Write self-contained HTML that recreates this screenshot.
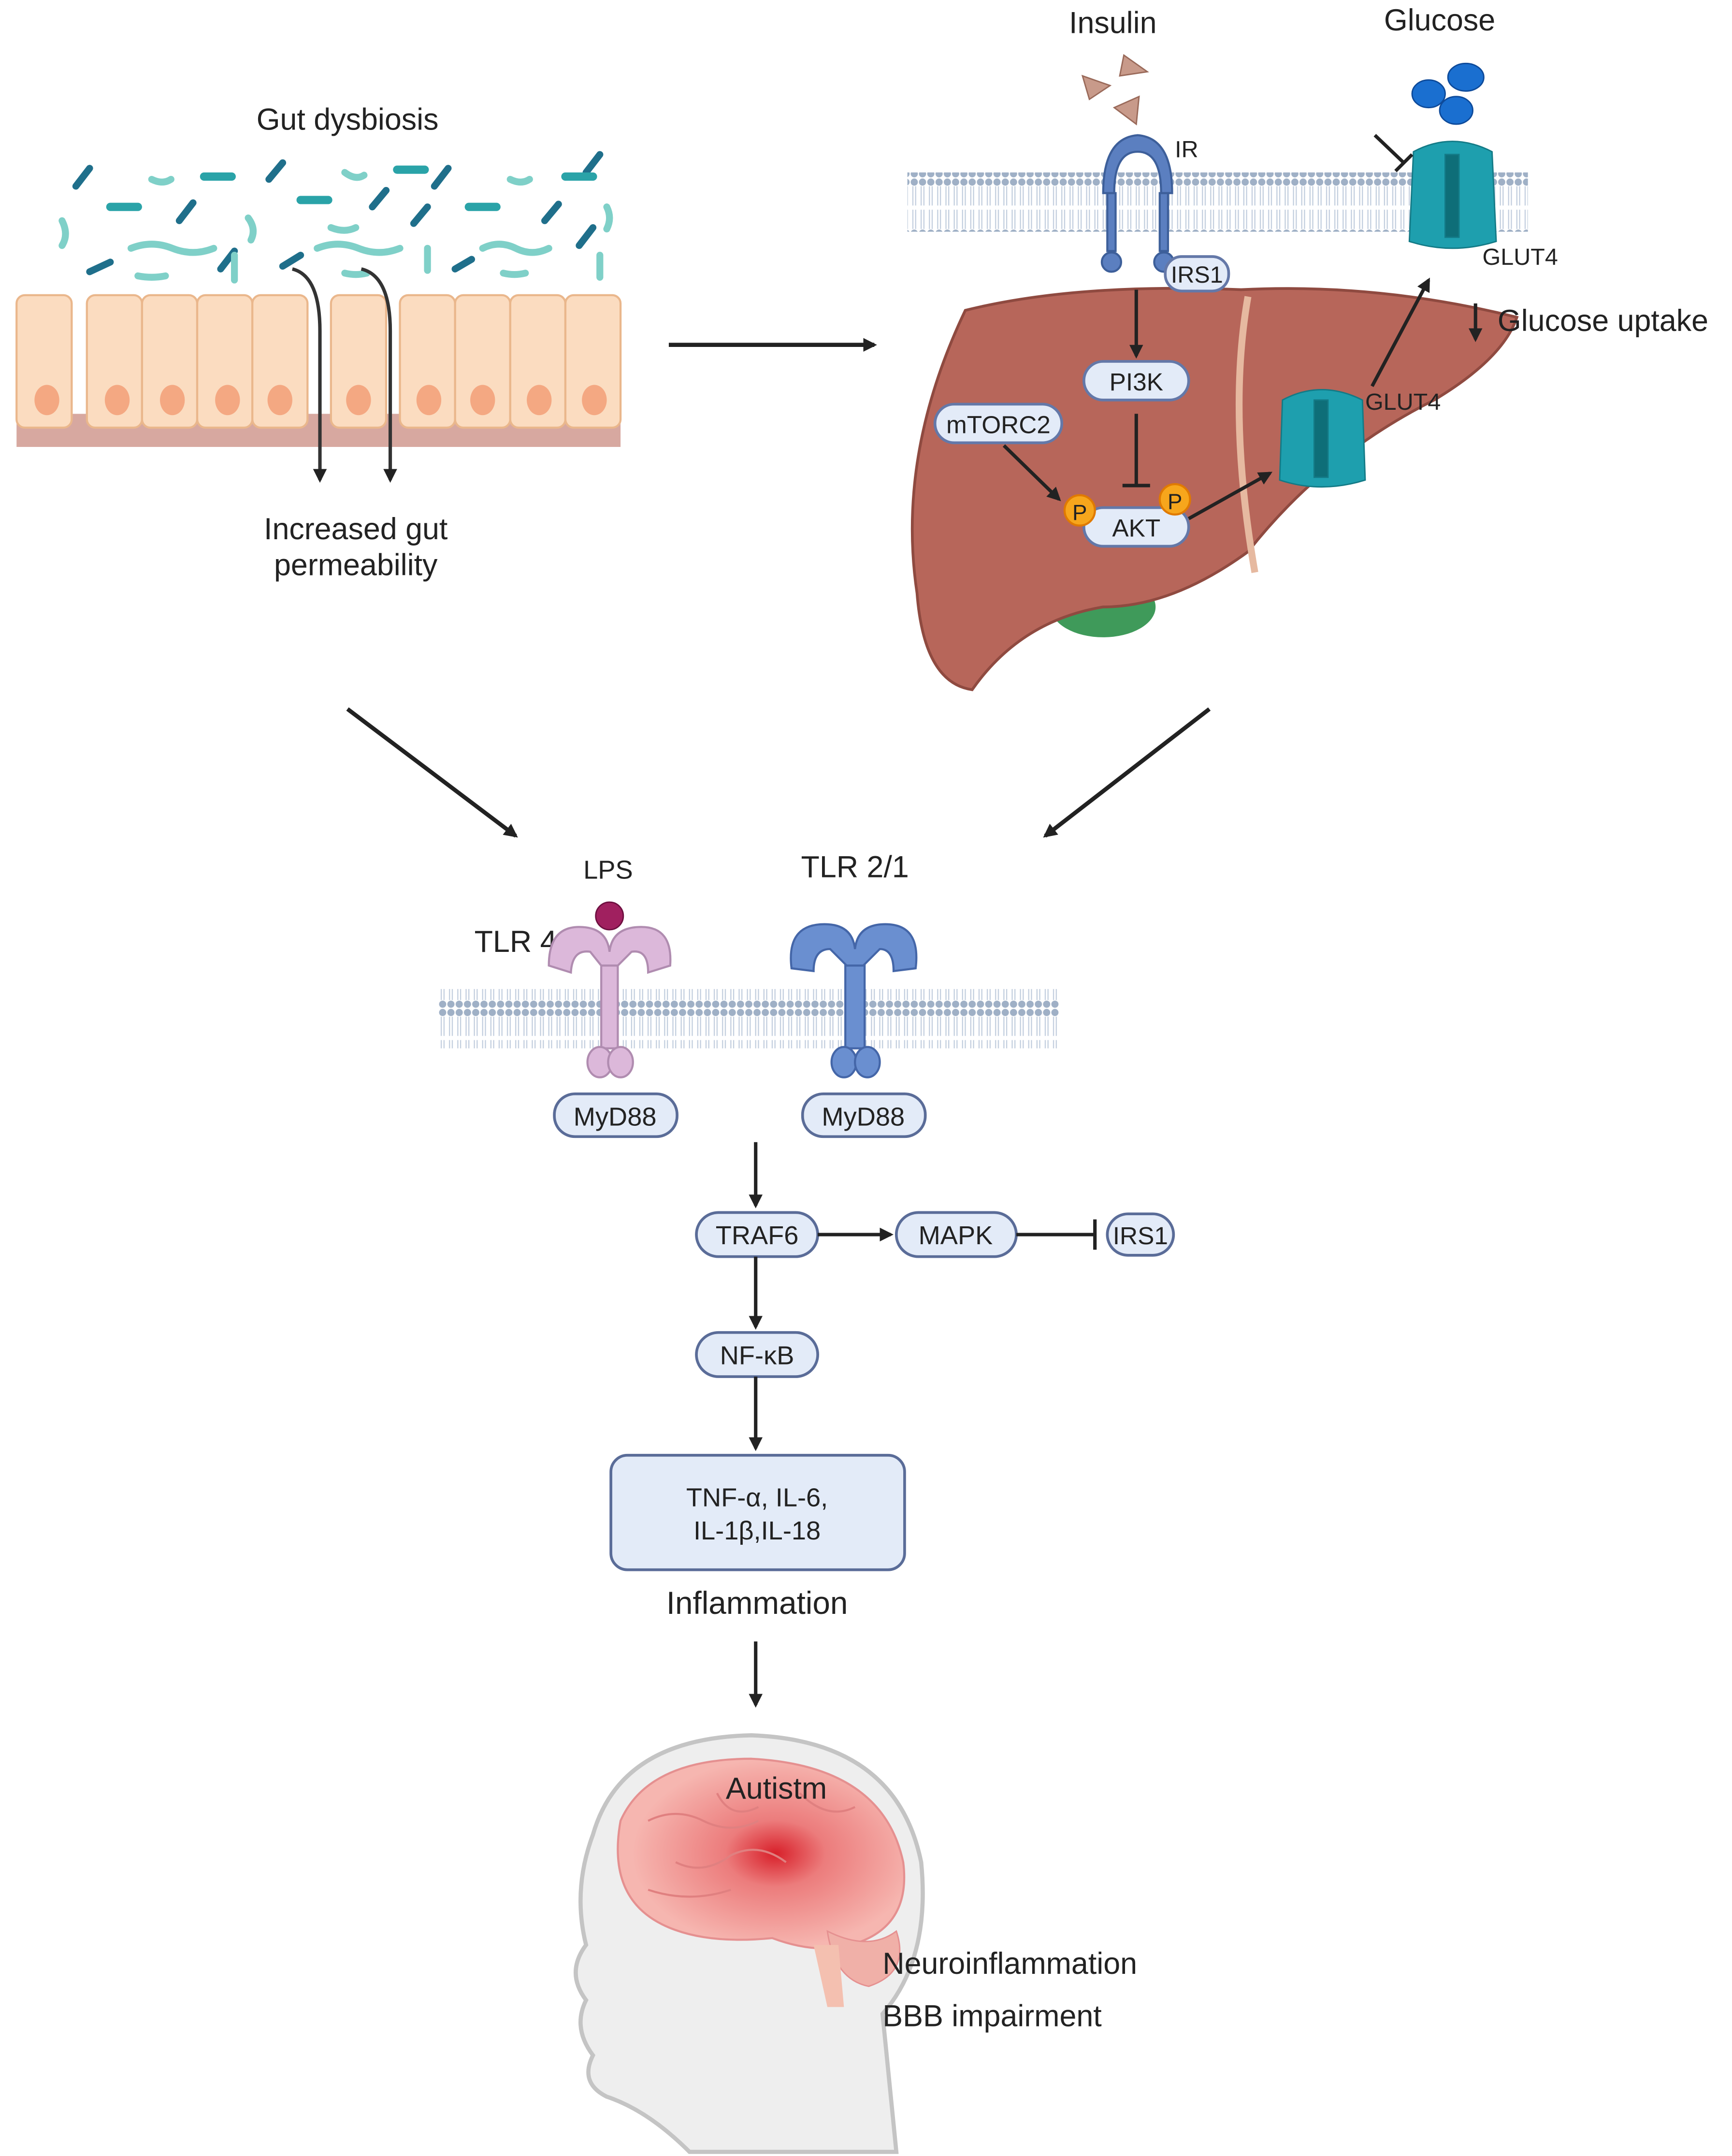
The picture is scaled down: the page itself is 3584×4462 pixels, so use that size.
<!DOCTYPE html>
<html><head><meta charset="utf-8"><style>
html,body{margin:0;padding:0;background:#fff;}
svg{display:block;}
text{font-family:"Liberation Sans",sans-serif;fill:#222;}
</style></head><body>
<svg width="3584" height="4462" viewBox="0 0 1256 1563" preserveAspectRatio="none" xmlns="http://www.w3.org/2000/svg">
<defs>
<marker id="ah" markerWidth="10" markerHeight="10" refX="8" refY="5" orient="auto" markerUnits="userSpaceOnUse"><path d="M0,0 L10,5 L0,10 z" fill="#222"/></marker>
<pattern id="mem" width="6" height="43" patternUnits="userSpaceOnUse"><circle cx="3" cy="3" r="2.6" fill="#9fb0c6"/><circle cx="3" cy="40" r="2.6" fill="#9fb0c6"/><line x1="2" y1="6" x2="2" y2="20" stroke="#c2cede" stroke-width="0.8"/><line x1="4" y1="6" x2="4" y2="20" stroke="#c2cede" stroke-width="0.8"/><line x1="2" y1="23" x2="2" y2="37" stroke="#c2cede" stroke-width="0.8"/><line x1="4" y1="23" x2="4" y2="37" stroke="#c2cede" stroke-width="0.8"/></pattern>
<radialGradient id="brg" cx="0.55" cy="0.5" r="0.5"><stop offset="0" stop-color="#d8202a"/><stop offset="0.35" stop-color="#ec7c7c"/><stop offset="1" stop-color="#f6b6b0"/></radialGradient>
</defs>

<!-- Gut -->
<text x="252" y="94" font-size="22" text-anchor="middle">Gut dysbiosis</text>
<g stroke-linecap="round">
<g stroke="#1f6f8b" stroke-width="5">
<line x1="55" y1="135" x2="65" y2="122"/><line x1="130" y1="160" x2="140" y2="147"/><line x1="160" y1="195" x2="170" y2="182"/><line x1="195" y1="130" x2="205" y2="118"/><line x1="270" y1="150" x2="280" y2="138"/><line x1="300" y1="162" x2="310" y2="150"/><line x1="315" y1="135" x2="325" y2="122"/><line x1="395" y1="160" x2="405" y2="148"/><line x1="425" y1="125" x2="435" y2="112"/><line x1="205" y1="193" x2="218" y2="185"/><line x1="65" y1="197" x2="80" y2="190"/><line x1="330" y1="195" x2="342" y2="188"/><line x1="420" y1="178" x2="430" y2="165"/>
</g>
<g stroke="#2aa3a8" stroke-width="6">
<line x1="80" y1="150" x2="100" y2="150"/><line x1="148" y1="128" x2="168" y2="128"/><line x1="218" y1="145" x2="238" y2="145"/><line x1="288" y1="123" x2="308" y2="123"/><line x1="340" y1="150" x2="360" y2="150"/><line x1="410" y1="128" x2="430" y2="128"/>
</g>
<g stroke="#7fd0c8" stroke-width="5" fill="none">
<path d="M45 160 q5 10 0 18"/><path d="M110 130 q8 4 14 0"/><path d="M180 158 q6 8 2 16"/><path d="M250 125 q8 6 14 2"/><path d="M240 165 q10 4 18 0"/><path d="M370 130 q8 4 14 0"/><path d="M440 150 q4 8 0 16"/><path d="M95 180 q15 -6 30 0 q15 6 30 0"/><path d="M230 180 q15 -6 30 0 q15 6 30 0"/><path d="M350 180 q12 -6 24 0 q12 6 24 0"/><path d="M100 200 q10 2 20 0"/><path d="M250 198 q8 2 16 0"/><path d="M365 198 q8 2 16 0"/><path d="M170 185 l0 18"/><path d="M310 180 l0 16"/><path d="M435 185 l0 16"/>
</g>
</g>
<!-- epithelium -->
<rect x="12" y="300" width="438" height="24" fill="#d7a8a0"/>
<g fill="#fbdcc0" stroke="#eab78c" stroke-width="1.5">
<rect x="12" y="214" width="40" height="96" rx="6"/><rect x="63" y="214" width="40" height="96" rx="6"/><rect x="103" y="214" width="40" height="96" rx="6"/><rect x="143" y="214" width="40" height="96" rx="6"/><rect x="183" y="214" width="40" height="96" rx="6"/><rect x="240" y="214" width="40" height="96" rx="6"/><rect x="290" y="214" width="40" height="96" rx="6"/><rect x="330" y="214" width="40" height="96" rx="6"/><rect x="370" y="214" width="40" height="96" rx="6"/><rect x="410" y="214" width="40" height="96" rx="6"/>
</g>
<g fill="#f4a882">
<ellipse cx="34" cy="290" rx="9" ry="11"/><ellipse cx="85" cy="290" rx="9" ry="11"/><ellipse cx="125" cy="290" rx="9" ry="11"/><ellipse cx="165" cy="290" rx="9" ry="11"/><ellipse cx="203" cy="290" rx="9" ry="11"/><ellipse cx="260" cy="290" rx="9" ry="11"/><ellipse cx="311" cy="290" rx="9" ry="11"/><ellipse cx="350" cy="290" rx="9" ry="11"/><ellipse cx="391" cy="290" rx="9" ry="11"/><ellipse cx="431" cy="290" rx="9" ry="11"/>
</g>
<path d="M212 195 Q232 200 232 240 L232 348" stroke="#333" stroke-width="2.5" fill="none" marker-end="url(#ah)"/>
<path d="M262 195 Q283 200 283 240 L283 348" stroke="#333" stroke-width="2.5" fill="none" marker-end="url(#ah)"/>
<text x="258" y="391" font-size="22" text-anchor="middle">Increased gut</text>
<text x="258" y="417" font-size="22" text-anchor="middle">permeability</text>

<line x1="485" y1="250" x2="634" y2="250" stroke="#222" stroke-width="3" marker-end="url(#ah)"/>

<!-- top membrane -->
<rect x="658" y="125" width="450" height="43" fill="url(#mem)"/>
<!-- liver -->
<ellipse cx="800" cy="440" rx="38" ry="22" fill="#3f9a5a"/>
<path d="M700 225 Q780 205 900 210 Q1000 205 1100 230 Q1090 260 1040 290 Q960 330 905 400 Q850 440 800 440 Q740 450 705 500 Q670 495 665 430 Q650 330 700 225 Z" fill="#b7665a" stroke="#8f4a40" stroke-width="2"/>
<path d="M905 215 Q890 300 910 415" stroke="#e6b9a0" stroke-width="5" fill="none"/>
<text x="807" y="24" font-size="22" text-anchor="middle">Insulin</text>
<g fill="#c89a8a" stroke="#9a6a5a"><path d="M785 55 L805 62 L790 72Z"/><path d="M815 40 L832 52 L812 55Z"/><path d="M808 78 L826 70 L824 90Z"/></g>
<text x="1044" y="22" font-size="22" text-anchor="middle">Glucose</text>
<g fill="#1a6fd0" stroke="#0d4a9a"><ellipse cx="1036" cy="68" rx="12" ry="10"/><ellipse cx="1063" cy="56" rx="13" ry="10"/><ellipse cx="1056" cy="80" rx="12" ry="10"/></g>
<!-- IR -->
<g fill="#5b7fc0" stroke="#3d5f9a" stroke-width="1.5">
<path d="M800 140 Q800 100 825 98 Q850 100 850 140 L842 140 Q842 110 825 110 Q808 110 808 140Z"/>
<rect x="803" y="140" width="6" height="42"/><rect x="841" y="140" width="6" height="42"/>
<circle cx="806" cy="190" r="7"/><circle cx="844" cy="190" r="7"/>
</g>
<text x="852" y="114" font-size="17">IR</text>
<!-- GLUT4 membrane -->
<g fill="#1e9fae" stroke="#137a86"><path d="M1025 110 Q1053 95 1082 110 L1085 175 Q1053 185 1022 175Z"/><rect x="1048" y="112" width="10" height="60" fill="#0e6e78"/></g>
<path d="M997 98 L1018 118" stroke="#222" stroke-width="2.5"/><path d="M1012 124 L1024 112" stroke="#222" stroke-width="2.5"/>
<text x="1075" y="192" font-size="17">GLUT4</text>
<!-- GLUT4 liver -->
<g fill="#1e9fae" stroke="#137a86"><path d="M930 290 Q958 275 988 290 L990 348 Q958 358 928 348Z"/><rect x="953" y="290" width="10" height="56" fill="#0e6e78"/></g>
<text x="990" y="297" font-size="17" fill="#111">GLUT4</text>
<line x1="995" y1="280" x2="1036" y2="203" stroke="#222" stroke-width="2.5" marker-end="url(#ah)"/>
<line x1="1070" y1="220" x2="1070" y2="246" stroke="#222" stroke-width="2.5" marker-end="url(#ah)"/>
<text x="1086" y="240" font-size="22">Glucose uptake</text>
<!-- pills liver -->
<g fill="#e3ebf8" stroke="#6478a8" stroke-width="2">
<rect x="845" y="186" width="46" height="25" rx="12"/>
<rect x="786" y="262" width="76" height="28" rx="14"/>
<rect x="678" y="293" width="92" height="28" rx="14"/>
<rect x="786" y="368" width="76" height="28" rx="14"/>
</g>
<text x="868" y="205" font-size="17" text-anchor="middle">IRS1</text>
<text x="824" y="283" font-size="18" text-anchor="middle">PI3K</text>
<text x="724" y="314" font-size="18" text-anchor="middle">mTORC2</text>
<text x="824" y="389" font-size="18" text-anchor="middle">AKT</text>
<line x1="824" y1="210" x2="824" y2="258" stroke="#222" stroke-width="2.5" marker-end="url(#ah)"/>
<line x1="824" y1="300" x2="824" y2="352" stroke="#222" stroke-width="2.5"/><line x1="814" y1="352" x2="834" y2="352" stroke="#222" stroke-width="2.5"/>
<line x1="728" y1="323" x2="768" y2="362" stroke="#222" stroke-width="2.5" marker-end="url(#ah)"/>
<line x1="862" y1="376" x2="921" y2="343" stroke="#222" stroke-width="2.5" marker-end="url(#ah)"/>
<g fill="#f7a61c" stroke="#e07a00" stroke-width="1.5"><circle cx="783" cy="370" r="11"/><circle cx="852" cy="362" r="11"/></g>
<text x="783" y="377" font-size="16" text-anchor="middle" fill="#c05a00">P</text>
<text x="852" y="369" font-size="16" text-anchor="middle" fill="#c05a00">P</text>

<line x1="252" y1="514" x2="374" y2="606" stroke="#222" stroke-width="3" marker-end="url(#ah)"/>
<line x1="877" y1="514" x2="758" y2="606" stroke="#222" stroke-width="3" marker-end="url(#ah)"/>

<!-- lower membrane -->
<rect x="318" y="717" width="450" height="43" fill="url(#mem)"/>
<text x="441" y="637" font-size="19" text-anchor="middle">LPS</text>
<circle cx="442" cy="664" r="10" fill="#a0205f" stroke="#6e0f40"/>
<text x="344" y="690" font-size="22">TLR 4</text>
<g fill="#dcb8da" stroke="#b08cb0" stroke-width="1.5">
<path d="M398 700 Q398 672 420 672 Q440 672 442 690 Q444 672 465 672 Q488 672 486 700 L470 705 Q470 688 458 690 L448 700 L436 700 L428 690 Q415 688 414 705Z"/>
<rect x="436" y="700" width="12" height="60"/>
<ellipse cx="435" cy="770" rx="9" ry="11"/><ellipse cx="450" cy="770" rx="9" ry="11"/>
</g>
<text x="620" y="636" font-size="22" text-anchor="middle">TLR 2/1</text>
<g fill="#6a8fd0" stroke="#4466a8" stroke-width="1.5">
<path d="M574 702 Q570 670 598 670 Q618 670 620 688 Q622 670 642 670 Q668 670 664 702 L648 704 Q648 688 638 688 L626 700 L614 700 L602 688 Q590 688 590 704Z"/>
<rect x="613" y="700" width="14" height="60"/>
<ellipse cx="612" cy="770" rx="9" ry="11"/><ellipse cx="629" cy="770" rx="9" ry="11"/>
</g>
<g fill="#e3ebf8" stroke="#5a6c98" stroke-width="2">
<rect x="402" y="793" width="89" height="31" rx="15"/>
<rect x="582" y="793" width="89" height="31" rx="15"/>
<rect x="505" y="879" width="88" height="32" rx="16"/>
<rect x="650" y="879" width="87" height="32" rx="16"/>
<rect x="803" y="880" width="48" height="30" rx="15"/>
<rect x="505" y="966" width="88" height="32" rx="16"/>
<rect x="443" y="1055" width="213" height="83" rx="12"/>
</g>
<text x="446" y="816" font-size="19" text-anchor="middle">MyD88</text>
<text x="626" y="816" font-size="19" text-anchor="middle">MyD88</text>
<text x="549" y="902" font-size="19" text-anchor="middle">TRAF6</text>
<text x="693" y="902" font-size="19" text-anchor="middle">MAPK</text>
<text x="827" y="902" font-size="18" text-anchor="middle">IRS1</text>
<text x="549" y="989" font-size="19" text-anchor="middle">NF-κB</text>
<text x="549" y="1092" font-size="19" text-anchor="middle">TNF-α, IL-6,</text>
<text x="549" y="1116" font-size="19" text-anchor="middle">IL-1β,IL-18</text>
<text x="549" y="1170" font-size="23" text-anchor="middle">Inflammation</text>
<g stroke="#222" stroke-width="2.5">
<line x1="548" y1="828" x2="548" y2="874" marker-end="url(#ah)"/>
<line x1="593" y1="895" x2="646" y2="895" marker-end="url(#ah)"/>
<line x1="737" y1="895" x2="793" y2="895"/><line x1="794" y1="884" x2="794" y2="906"/>
<line x1="548" y1="911" x2="548" y2="962" marker-end="url(#ah)"/>
<line x1="548" y1="998" x2="548" y2="1050" marker-end="url(#ah)"/>
<line x1="548" y1="1190" x2="548" y2="1236" marker-end="url(#ah)"/>
</g>

<!-- head -->
<path d="M430 1330 Q450 1260 545 1258 Q650 1262 668 1350 Q675 1420 640 1460 L650 1560 L500 1560 Q470 1530 440 1520 Q420 1510 430 1490 Q415 1470 425 1450 Q410 1430 425 1410 Q415 1370 430 1330Z" fill="#eeeeee" stroke="#c4c4c4" stroke-width="3"/>
<path d="M450 1320 Q470 1275 545 1275 Q640 1280 655 1350 Q660 1390 630 1405 Q600 1420 560 1405 Q510 1410 480 1395 Q440 1375 450 1320Z" fill="url(#brg)" stroke="#e59090" stroke-width="1.5"/>
<path d="M600 1400 Q630 1415 650 1400 Q660 1430 630 1440 Q605 1435 600 1400Z" fill="#f0b0a8" stroke="#e59090"/>
<path d="M590 1410 L600 1455 L612 1455 L608 1410Z" fill="#f4c0b0"/>
<g stroke="#e08080" stroke-width="1.5" fill="none"><path d="M470 1320 q20 -10 40 0 q20 10 40 0"/><path d="M490 1350 q20 10 40 -5 q20 -10 40 5"/><path d="M520 1300 q10 20 30 10"/><path d="M580 1300 q20 20 40 10"/><path d="M470 1370 q30 10 60 0"/></g>
<text x="563" y="1304" font-size="22" text-anchor="middle">Autistm</text>
<text x="640" y="1431" font-size="22">Neuroinflammation</text>
<text x="640" y="1469" font-size="22">BBB impairment</text>
</svg>
</body></html>
